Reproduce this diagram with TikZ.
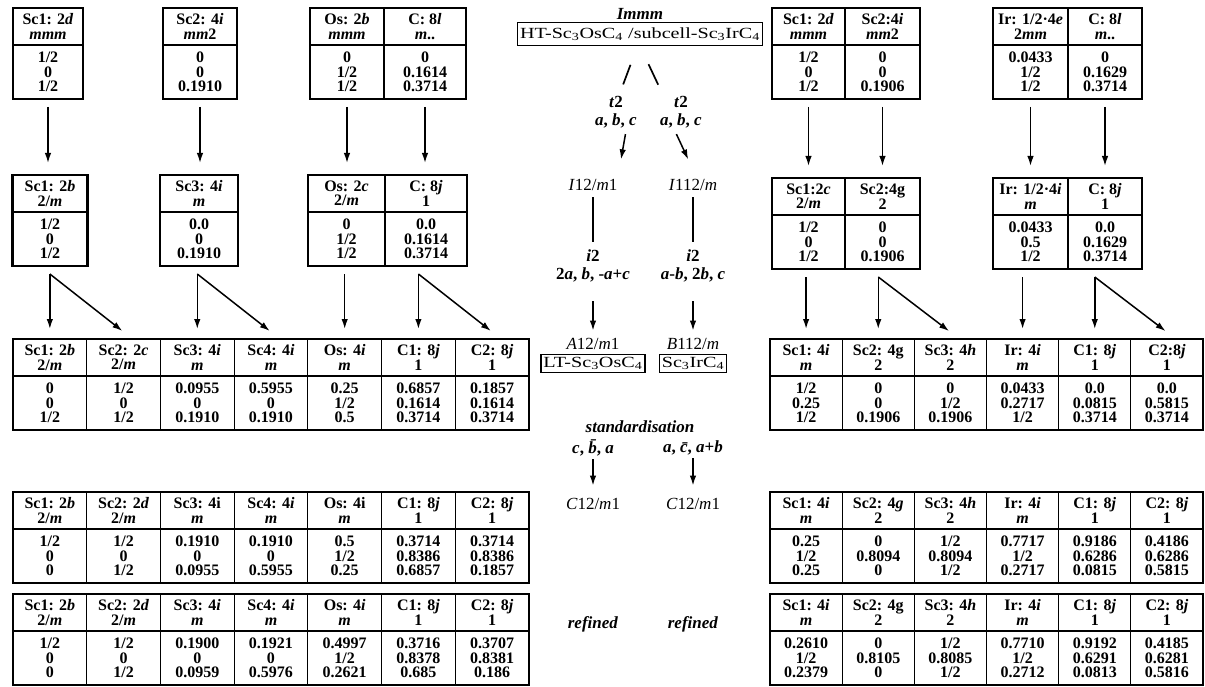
\documentclass[tikz,border=0pt]{standalone}
\usepackage{fontspec}
\setmainfont{Liberation Serif}
\usepackage{graphicx}
\usetikzlibrary{arrows.meta, positioning, fit}

\newcommand{\tabfont}{\fontsize{16}{14.5}\selectfont\bfseries}
\newcommand{\midfont}{\fontsize{17}{18}\selectfont}
\newcommand{\boxfont}{\fontsize{15.5}{16}\selectfont}
% one column of a site table: name, x centre, y top, width, header, coordinates
\newcommand{\wcell}[6]{%
  \node[hd, minimum width=#4pt] (#1h) at (#2,#3) {#5};
  \node[bd, minimum width=#4pt, below=0pt of #1h] (#1) {#6};
}

\begin{document}
\begin{tikzpicture}[x=1pt, y=1pt,
    hd/.style={draw, line width=1.1pt, anchor=north, minimum height=37pt, inner sep=1pt, outer sep=0pt, align=center, font=\tabfont},
    bd/.style={hd, minimum height=54pt},
    frame/.style={draw, line width=2.2pt, inner sep=0pt, outer sep=0pt},
    arr/.style={-{Latex[length=10pt, width=6.5pt]}, line width=1.5pt},
    stroke/.style={line width=1.7pt},
    sg/.style={font=\midfont, inner sep=3pt},
    lbl/.style={font=\midfont\bfseries, align=center, inner sep=3pt},
    box/.style={draw, line width=1.2pt, font=\boxfont, inner sep=2.5pt}
]
\useasboundingbox (0,0) rectangle (1205,-687);

% ---- left branch, HT-Sc3OsC4
\wcell{L1a}{48}{-8}{70}{Sc1: 2\textit{d}\\\textit{mmm}}{1/2\\0\\1/2}
\wcell{L1b}{200}{-8}{74}{Sc2: 4\textit{i}\\\textit{mm}2}{0\\0\\0.1910}
\wcell{L1c}{347}{-8}{74}{Os: 2\textit{b}\\\textit{mmm}}{0\\1/2\\1/2}
\wcell{L1d}{425}{-8}{82}{C: 8\textit{l}\\\textit{m}..}{0\\0.1614\\0.3714}
\node[frame, fit=(L1ah)(L1a)] {};
\node[frame, fit=(L1bh)(L1b)] {};
\node[frame, fit=(L1ch)(L1d)] {};

\wcell{L2a}{50}{-175}{75}{Sc1: 2\textit{b}\\2/\textit{m}}{1/2\\0\\1/2}
\wcell{L2b}{199}{-175}{78}{Sc3: 4\textit{i}\\\textit{m}}{0.0\\0\\0.1910}
\wcell{L2c}{346.5}{-175}{77}{Os: 2\textit{c}\\2/\textit{m}}{0\\1/2\\1/2}
\wcell{L2d}{426}{-175}{82}{C: 8\textit{j}\\1}{0.0\\0.1614\\0.3714}
\node[frame, fit=(L2ah)(L2a)] {};
\node[frame, fit=(L2bh)(L2b)] {};
\node[frame, fit=(L2ch)(L2d)] {};

\foreach \hdr/\val [count=\ci] in {
    {Sc1: 2\textit{b}\\2/\textit{m}}/{0\\0\\1/2},
    {Sc2: 2\textit{c}\\2/\textit{m}}/{1/2\\0\\1/2},
    {Sc3: 4\textit{i}\\\textit{m}}/{0.0955\\0\\0.1910},
    {Sc4: 4\textit{i}\\\textit{m}}/{0.5955\\0\\0.1910},
    {Os: 4\textit{i}\\\textit{m}}/{0.25\\1/2\\0.5},
    {C1: 8\textit{j}\\1}/{0.6857\\0.1614\\0.3714},
    {C2: 8\textit{j}\\1}/{0.1857\\0.1614\\0.3714}}{
  \pgfmathsetmacro{\xc}{13+73.71*(\ci-0.5)}
  \wcell{L3c\ci}{\xc}{-339}{73.71}{\hdr}{\val}
}
\node[frame, fit=(L3c1h)(L3c7)] {};

\foreach \hdr/\val [count=\ci] in {
    {Sc1: 2\textit{b}\\2/\textit{m}}/{1/2\\0\\0},
    {Sc2: 2\textit{d}\\2/\textit{m}}/{1/2\\0\\1/2},
    {Sc3: 4i\\\textit{m}}/{0.1910\\0\\0.0955},
    {Sc4: 4\textit{i}\\\textit{m}}/{0.1910\\0\\0.5955},
    {Os: 4i\\\textit{m}}/{0.5\\1/2\\0.25},
    {C1: 8\textit{j}\\1}/{0.3714\\0.8386\\0.6857},
    {C2: 8\textit{j}\\1}/{0.3714\\0.8386\\0.1857}}{
  \pgfmathsetmacro{\xc}{13+73.71*(\ci-0.5)}
  \wcell{L4c\ci}{\xc}{-492}{73.71}{\hdr}{\val}
}
\node[frame, fit=(L4c1h)(L4c7)] {};

\foreach \hdr/\val [count=\ci] in {
    {Sc1: 2\textit{b}\\2/\textit{m}}/{1/2\\0\\0},
    {Sc2: 2\textit{d}\\2/\textit{m}}/{1/2\\0\\1/2},
    {Sc3: 4\textit{i}\\\textit{m}}/{0.1900\\0\\0.0959},
    {Sc4: 4\textit{i}\\\textit{m}}/{0.1921\\0\\0.5976},
    {Os: 4\textit{i}\\\textit{m}}/{0.4997\\1/2\\0.2621},
    {C1: 8\textit{j}\\1}/{0.3716\\0.8378\\0.685},
    {C2: 8\textit{j}\\1}/{0.3707\\0.8381\\0.186}}{
  \pgfmathsetmacro{\xc}{13+73.71*(\ci-0.5)}
  \wcell{L5c\ci}{\xc}{-594}{73.71}{\hdr}{\val}
}
\node[frame, fit=(L5c1h)(L5c7)] {};

% ---- right branch, Sc3IrC4
\wcell{R1a}{808.5}{-8}{73}{Sc1: 2\textit{d}\\\textit{mmm}}{1/2\\0\\1/2}
\wcell{R1b}{882.5}{-8}{75}{Sc2:4\textit{i}\\\textit{mm}2}{0\\0\\0.1906}
\wcell{R1c}{1030.5}{-8}{75}{Ir: 1/2·4\textit{e}\\2\textit{mm}}{0.0433\\1/2\\1/2}
\wcell{R1d}{1105}{-8}{74}{C: 8\textit{l}\\\textit{m}..}{0\\0.1629\\0.3714}
\node[frame, fit=(R1ah)(R1b)] {};
\node[frame, fit=(R1ch)(R1d)] {};

\wcell{R2a}{808.5}{-178}{73}{Sc1:2\textit{c}\\2/\textit{m}}{1/2\\0\\1/2}
\wcell{R2b}{882.5}{-178}{75}{Sc2:4g\\2}{0\\0\\0.1906}
\wcell{R2c}{1030.5}{-178}{75}{Ir: 1/2·4\textit{i}\\\textit{m}}{0.0433\\0.5\\1/2}
\wcell{R2d}{1105}{-178}{74}{C: 8\textit{j}\\1}{0.0\\0.1629\\0.3714}
\node[frame, fit=(R2ah)(R2b)] {};
\node[frame, fit=(R2ch)(R2d)] {};

\foreach \hdr/\val [count=\ci] in {
    {Sc1: 4\textit{i}\\\textit{m}}/{1/2\\0.25\\1/2},
    {Sc2: 4g\\2}/{0\\0\\0.1906},
    {Sc3: 4\textit{h}\\2}/{0\\1/2\\0.1906},
    {Ir: 4\textit{i}\\\textit{m}}/{0.0433\\0.2717\\1/2},
    {C1: 8\textit{j}\\1}/{0.0\\0.0815\\0.3714},
    {C2:8\textit{j}\\1}/{0.0\\0.5815\\0.3714}}{
  \pgfmathsetmacro{\xc}{770+72.17*(\ci-0.5)}
  \wcell{R3c\ci}{\xc}{-339}{72.17}{\hdr}{\val}
}
\node[frame, fit=(R3c1h)(R3c6)] {};

\foreach \hdr/\val [count=\ci] in {
    {Sc1: 4\textit{i}\\\textit{m}}/{0.25\\1/2\\0.25},
    {Sc2: 4\textit{g}\\2}/{0\\0.8094\\0},
    {Sc3: 4\textit{h}\\2}/{1/2\\0.8094\\1/2},
    {Ir: 4\textit{i}\\\textit{m}}/{0.7717\\1/2\\0.2717},
    {C1: 8\textit{j}\\1}/{0.9186\\0.6286\\0.0815},
    {C2: 8\textit{j}\\1}/{0.4186\\0.6286\\0.5815}}{
  \pgfmathsetmacro{\xc}{770+72.17*(\ci-0.5)}
  \wcell{R4c\ci}{\xc}{-492}{72.17}{\hdr}{\val}
}
\node[frame, fit=(R4c1h)(R4c6)] {};

\foreach \hdr/\val [count=\ci] in {
    {Sc1: 4\textit{i}\\\textit{m}}/{0.2610\\1/2\\0.2379},
    {Sc2: 4g\\2}/{0\\0.8105\\0},
    {Sc3: 4\textit{h}\\2}/{1/2\\0.8085\\1/2},
    {Ir: 4\textit{i}\\\textit{m}}/{0.7710\\1/2\\0.2712},
    {C1: 8\textit{j}\\1}/{0.9192\\0.6291\\0.0813},
    {C2: 8\textit{j}\\1}/{0.4185\\0.6281\\0.5816}}{
  \pgfmathsetmacro{\xc}{770+72.17*(\ci-0.5)}
  \wcell{R5c\ci}{\xc}{-594}{72.17}{\hdr}{\val}
}
\node[frame, fit=(R5c1h)(R5c6)] {};

% ---- site splitting arrows
\foreach \up/\dn in {L1a/L2a, L1b/L2b, L1c/L2c, L1d/L2d, R1a/R2a, R1b/R2b, R1c/R2c, R1d/R2d}
  \draw[arr, shorten <=8pt, shorten >=12pt] (\up.south) -- (\up.south |- \dn h.north);
\foreach \up/\dn in {L2a/L3c1, L2b/L3c3, L2c/L3c5, L2d/L3c6, R2a/R3c1, R2b/R3c2, R2c/R3c4, R2d/R3c5}{
  \path (\up.south -| \dn h.north) ++(0,-8) coordinate (k\up);
  \draw[arr, shorten >=10pt] (k\up) -- (\dn h.north);
}
\foreach \up/\dn in {L2a/L3c2, L2b/L3c4, L2d/L3c7, R2b/R3c3, R2d/R3c6}
  \draw[arr, shorten >=13pt] (k\up) -- ([xshift=9pt]\dn h.north);

% ---- group-subgroup scheme
\node[lbl] (imm) at (640,-14) {\textit{Immm}};
\node[box, minimum height=23pt] (ht) at (640,-34) {\scalebox{1.3}[1]{HT-Sc\textsubscript{3}OsC\textsubscript{4} /subcell-Sc\textsubscript{3}IrC\textsubscript{4}}};
\node[lbl] (tl) at (616,-112) {\textit{t}2\\\textit{a}, \textit{b}, \textit{c}};
\node[lbl] (tr) at (681,-112) {\textit{t}2\\\textit{a}, \textit{b}, \textit{c}};
\node[sg] (il) at (593,-185) {\textit{I}12/\textit{m}1};
\node[sg] (ir) at (693,-185) {\textit{I}112/\textit{m}};
\node[lbl] (i2l) at (593,-266) {\textit{i}2\\2\textit{a}, \textit{b}, -\textit{a}+\textit{c}};
\node[lbl] (i2r) at (693,-266) {\textit{i}2\\\textit{a}-\textit{b}, 2\textit{b}, \textit{c}};
\node[sg] (al) at (593,-344) {\textit{A}12/\textit{m}1};
\node[sg] (ar) at (693,-344) {\textit{B}112/\textit{m}};
\node[box, below=1pt of al] (ltb) {\scalebox{1.3}[1]{LT-Sc\textsubscript{3}OsC\textsubscript{4}}};
\node[box, below=1pt of ar] (scb) {\scalebox{1.3}[1]{Sc\textsubscript{3}IrC\textsubscript{4}}};
\node[lbl] (std) at (640,-427) {\textit{standardisation}};
\node[lbl] (sl) at (593,-448) {\textit{c}, \textit{\=b}, \textit{a}};
\node[lbl] (sr) at (693,-448) {\textit{a}, \textit{\=c}, \textit{a}+\textit{b}};
\node[sg] (cl) at (593,-504) {\textit{C}12/\textit{m}1};
\node[sg] (cr) at (693,-504) {\textit{C}12/\textit{m}1};
\node[lbl] (refl) at (593,-624) {\textit{refined}};
\node[lbl] (refr) at (693,-624) {\textit{refined}};

\draw[stroke, shorten <=20pt, shorten >=9pt] ([xshift=-2.5pt]ht.south) -- ([xshift=4pt]tl.north);
\draw[stroke, shorten <=20pt, shorten >=9pt] (ht.south) -- ([xshift=-19pt]tr.north);
\draw[arr, shorten <=3pt, shorten >=17pt] ([xshift=10pt]tl.south) -- ([xshift=25pt]il.north);
\draw[arr, shorten <=3.3pt, shorten >=18.3pt] ([xshift=-6pt]tr.south) -- ([xshift=3pt]ir.north);
\draw[stroke, shorten <=3.5pt, shorten >=5pt] (il) -- (i2l);
\draw[stroke, shorten <=3.5pt, shorten >=5pt] (ir) -- (i2r);
\draw[arr, shorten <=16pt, shorten >=4.5pt] (i2l) -- (al);
\draw[arr, shorten <=16pt, shorten >=4.5pt] (i2r) -- (ar);
\draw[arr, shorten <=0pt, shorten >=9.5pt] (sl) -- (cl);
\draw[arr, shorten <=0pt, shorten >=9.5pt] (sr) -- (cr);
\end{tikzpicture}
\end{document}
